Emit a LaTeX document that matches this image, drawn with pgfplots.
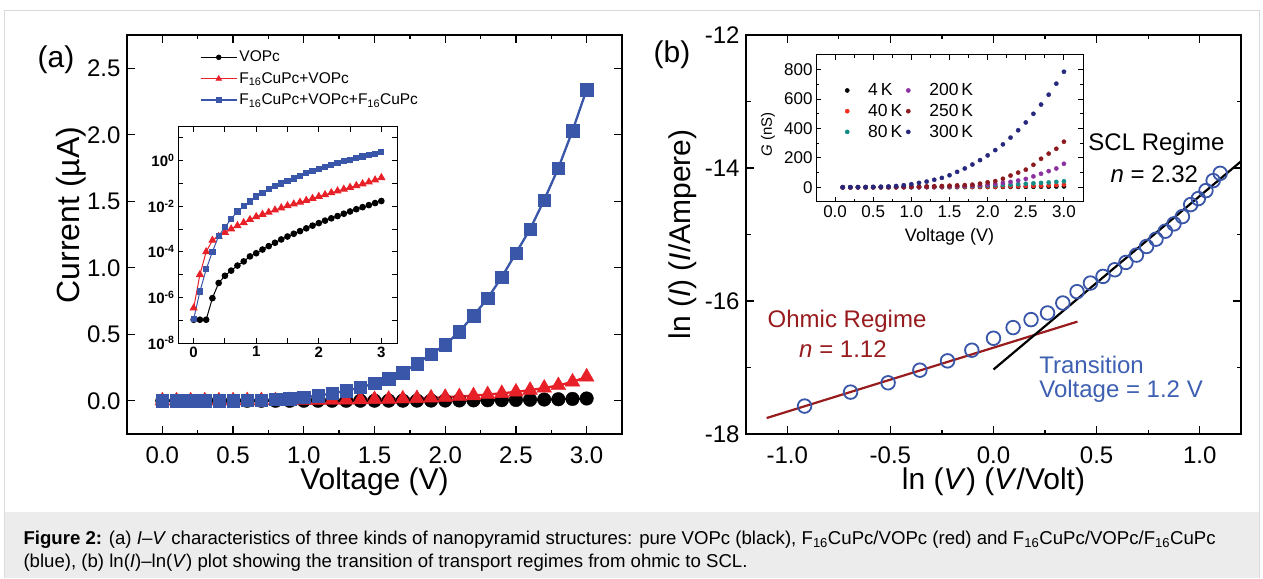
\documentclass[border=0pt]{standalone}
\usepackage{fontspec}
\setmainfont{Liberation Sans}
\usepackage{pgfplots}
\usepackage{pgfplotstable}
\pgfplotsset{compat=1.18}

\definecolor{cred}{RGB}{232,32,40}
\definecolor{cblue}{RGB}{58,86,168}
\definecolor{ohm}{RGB}{152,28,30}
\definecolor{trans}{RGB}{62,96,178}
\definecolor{tk40}{RGB}{240,45,35}
\definecolor{tk80}{RGB}{20,140,135}
\definecolor{tk200}{RGB}{140,50,160}
\definecolor{tk250}{RGB}{140,25,30}
\definecolor{tk300}{RGB}{38,40,125}
\definecolor{capbg}{RGB}{236,236,236}
\definecolor{framec}{RGB}{218,218,218}

% I-V data, current in microampere
\pgfplotstableread{
V I
0.0 1.05e-7
0.1 1.05e-7
0.2 1.05e-7
0.3 9.3e-7
0.4 4.3e-6
0.5 8.9e-6
0.6 1.5e-5
0.7 2.5e-5
0.8 3.8e-5
0.9 6.3e-5
1.0 8.7e-5
1.1 1.26e-4
1.2 1.78e-4
1.3 2.5e-4
1.4 3.5e-4
1.5 4.7e-4
1.6 6.2e-4
1.7 8.1e-4
1.8 1.07e-3
1.9 1.41e-3
2.0 1.82e-3
2.1 2.34e-3
2.2 2.95e-3
2.3 3.7e-3
2.4 4.7e-3
2.5 5.9e-3
2.6 7.4e-3
2.7 9.1e-3
2.8 1.12e-2
2.9 1.38e-2
3.0 1.7e-2
}\vopc

\pgfplotstableread{
V I
0.0 3.4e-7
0.1 1.0e-5
0.2 1.0e-4
0.3 3.2e-4
0.4 4.7e-4
0.5 7.1e-4
0.6 1.0e-3
0.7 1.4e-3
0.8 1.9e-3
0.9 2.6e-3
1.0 3.5e-3
1.1 4.4e-3
1.2 5.4e-3
1.3 6.8e-3
1.4 8.5e-3
1.5 1.05e-2
1.6 1.25e-2
1.7 1.5e-2
1.8 1.8e-2
1.9 2.2e-2
2.0 2.7e-2
2.1 3.2e-2
2.2 3.9e-2
2.3 4.7e-2
2.4 5.6e-2
2.5 6.7e-2
2.6 8.0e-2
2.7 9.6e-2
2.8 1.15e-1
2.9 1.42e-1
3.0 1.80e-1
}\fvopc

\pgfplotstableread{
V I
0.0 1.1e-7
0.1 1.8e-6
0.2 1.7e-5
0.3 1.0e-4
0.4 5.0e-4
0.5 1.2e-3
0.6 2.8e-3
0.7 5.9e-3
0.8 1.0e-2
0.9 1.6e-2
1.0 2.7e-2
1.1 3.8e-2
1.2 5.5e-2
1.3 7.5e-2
1.4 0.10
1.5 0.13
1.6 0.165
1.7 0.21
1.8 0.28
1.9 0.35
2.0 0.42
2.1 0.52
2.2 0.64
2.3 0.77
2.4 0.93
2.5 1.11
2.6 1.29
2.7 1.51
2.8 1.75
2.9 2.03
3.0 2.34
}\fvf

% ln I vs ln V
\pgfplotstableread{
x y
-0.916 -17.58
-0.693 -17.37
-0.511 -17.23
-0.357 -17.04
-0.223 -16.90
-0.105 -16.74
0.000 -16.56
0.095 -16.40
0.182 -16.28
0.262 -16.18
0.336 -16.03
0.405 -15.86
0.470 -15.73
0.531 -15.63
0.588 -15.53
0.642 -15.42
0.693 -15.31
0.742 -15.18
0.788 -15.07
0.833 -14.95
0.875 -14.84
0.916 -14.73
0.956 -14.55
0.993 -14.46
1.030 -14.34
1.065 -14.19
1.099 -14.08
}\lnlog

% conductance (nS) at six temperatures
\pgfplotstableread{
V a b c d e f
0.1 0 0 0 0 0 0.5
0.2 0 0 0 0 0 1
0.3 0 0 0 0 0.5 1.5
0.4 0 0 0 0.5 0.5 2
0.5 0 0 0.5 0.5 1 3
0.6 0 0.5 0.5 1 1 4
0.7 0.5 0.5 1 1 2 6
0.8 0.5 0.5 1 1.5 2 9
0.9 0.5 0.5 1.5 1.5 3 14
1.0 0.5 1 2 2 4 21
1.1 0.5 1 2.5 2.5 5 30
1.2 1 1 3 3 6 39
1.3 1 1 3.5 4 7 51
1.4 1 1.5 4 5 9 64
1.5 1 2 5 6 11 82
1.6 1 2.5 6 7 13 105
1.7 1.5 3 7 9 15 128
1.8 1.5 3.5 8 11 18 155
1.9 2 4 10 14 25 185
2.0 2 4.5 12 18 34 217
2.1 2 5 14 23 42 253
2.2 2.5 6 16 30 58 292
2.3 2.5 7 18 37 80 338
2.4 3 8 21 46 100 388
2.5 3 9 24 57 120 441
2.6 3.5 10 27 74 153 500
2.7 4 11 30 92 194 563
2.8 4 13 33 110 229 630
2.9 5 15 37 128 262 705
3.0 6 18 41 160 310 786
}\gdat

\pgfplotsset{
  mainax/.style={scale only axis, anchor=south west, width=495pt, height=399pt,
    axis line style={line width=1.6pt}, tick style={line width=1.3pt, black},
    tick align=inside, major tick length=8pt, minor tick length=4.5pt,
    ticklabel style={font=\fontsize{24}{24}\selectfont},
    xticklabel style={yshift=-9pt}, yticklabel style={xshift=-3pt},
    /pgf/number format/assume math mode=true,
    label style={font=\fontsize{30}{30}\selectfont}},
  onedec/.style={/pgf/number format/fixed, /pgf/number format/fixed zerofill,
    /pgf/number format/precision=1},
}

\begin{document}
\begin{tikzpicture}[x=1pt,y=1pt]
\fill[white] (0pt,0pt) rectangle (1263pt,578pt);
\fill[capbg] (4pt,0pt) rectangle (1259pt,66pt);
\draw[framec, line width=1pt] (4pt,0pt) -- (4pt,567pt) -- (1259pt,567pt) -- (1259pt,0pt);

\node[anchor=base west, font=\fontsize{18.6}{21}\selectfont] at (20pt,34pt) {\textbf{Figure 2:} (a) \textit{I}–\textit{V} characteristics of three kinds of nanopyramid structures: pure VOPc (black), F\textsubscript{16}CuPc/VOPc (red) and F\textsubscript{16}CuPc/VOPc/F\textsubscript{16}CuPc};
\node[anchor=base west, font=\fontsize{18.6}{21}\selectfont] at (20pt,11pt) {(blue), (b) ln(\textit{I})–ln(\textit{V}) plot showing the transition of transport regimes from ohmic to SCL.};

\node[font=\fontsize{30}{30}\selectfont] at (56pt,518pt) {(a)};
\node[font=\fontsize{30}{30}\selectfont] at (672pt,523pt) {(b)};

% panel (a)
\begin{axis}[mainax, at={(127pt,144pt)},
  xmin=-0.25, xmax=3.25, ymin=-0.25, ymax=2.75,
  xtick={0,0.5,1,1.5,2,2.5,3}, minor xtick={0.25,0.75,1.25,1.75,2.25,2.75},
  ytick={0,0.5,1,1.5,2,2.5},
  xticklabel style={onedec}, yticklabel style={onedec},
  xlabel={Voltage (V)}, ylabel={Current (µA)},
  xlabel style={at={(axis description cs:0.5,-0.12)}, anchor=center},
  ylabel style={at={(axis description cs:-0.113,0.549)}, anchor=center, font=\fontsize{32}{32}\selectfont},
  legend style={draw=none, fill=none, at={(axis description cs:0.141,0.97)}, anchor=north west,
    font=\fontsize{15.5}{15.5}\selectfont, row sep=5pt},
  legend cell align=left,
  legend image code/.code={\draw[mark repeat=2,mark phase=2,#1] plot coordinates {(0pt,0pt) (18pt,0pt) (36pt,0pt)};},
]
\addplot[black, line width=2.3pt, mark=*, mark size=6.8pt, mark options={line width=0.4pt},
  legend image post style={mark size=2.5pt, line width=1.5pt}] table[x=V,y=I]{\vopc};
\addlegendentry{VOPc}
\addplot[cred, line width=2.3pt, mark=triangle*, mark size=8.5pt, mark options={line width=0.4pt},
  legend image post style={mark size=3.3pt, line width=1.5pt}] table[x=V,y=I]{\fvopc};
\addlegendentry{F\textsubscript{16}CuPc+VOPc}
\addplot[cblue, line width=2.3pt, mark=square*, mark size=6.2pt, mark options={line width=0.4pt},
  legend image post style={mark size=2.3pt, line width=1.5pt}] table[x=V,y=I]{\fvf};
\addlegendentry{F\textsubscript{16}CuPc+VOPc+F\textsubscript{16}CuPc}
\end{axis}

% inset of (a)
\begin{axis}[scale only axis, at={(178pt,235pt)}, anchor=south west, width=219pt, height=216pt,
  ymode=log, xmin=-0.25, xmax=3.25, ymin=1e-8, ymax=30,
  axis background/.style={fill=white}, axis line style={line width=1pt},
  tick style={line width=0.9pt, black}, tick align=inside,
  major tick length=5pt, minor tick length=5pt,
  xtick={0,1,2,3}, xticklabels={0,1,2,3}, minor xtick={0.5,1.5,2.5},
  ytick={1e-8,1e-6,1e-4,1e-2,1},
  yticklabels={10\textsuperscript{-8},10\textsuperscript{-6},10\textsuperscript{-4},10\textsuperscript{-2},10\textsuperscript{0}},
  minor ytick={1e-7,1e-5,1e-3,1e-1,10},
  ticklabel style={font=\fontsize{15}{15}\selectfont\bfseries},
]
\addplot[black, line width=1pt, mark=*, mark size=2.8pt] table[x=V,y=I]{\vopc};
\addplot[cred, line width=1pt, mark=triangle*, mark size=3.8pt] table[x=V,y=I]{\fvopc};
\addplot[cblue, line width=1pt, mark=square*, mark size=2.6pt] table[x=V,y=I]{\fvf};
\end{axis}

% panel (b)
\begin{axis}[mainax, at={(746pt,144pt)},
  xmin=-1.2, xmax=1.2, ymin=-18, ymax=-12,
  xtick={-1,-0.5,0,0.5,1}, minor xtick={-0.75,-0.25,0.25,0.75},
  ytick={-18,-16,-14,-12}, minor ytick={-17,-15,-13},
  xticklabel style={onedec},
  xlabel={ln (\textit{V}) (\textit{V}/Volt)}, ylabel={ln (\textit{I}) (\textit{I}/Ampere)},
  xlabel style={at={(axis description cs:0.5,-0.12)}, anchor=center},
  ylabel style={at={(axis description cs:-0.127,0.5)}, anchor=center},
]
\addplot[only marks, cblue, mark=o, mark size=6.8pt, mark options={line width=1.8pt}] table[x=x,y=y]{\lnlog};
\addplot[ohm, line width=2.2pt] coordinates {(-1.1,-17.76) (0.407,-16.31)};
\addplot[black, line width=2.2pt] coordinates {(0,-17.03) (1.2,-13.90)};
\node[ohm, font=\fontsize{24}{24}\selectfont] at (axis cs:-0.71,-16.31) {Ohmic Regime};
\node[ohm, font=\fontsize{24}{24}\selectfont] at (axis cs:-0.73,-16.73) {\textit{n} = 1.12};
\node[black, font=\fontsize{24}{24}\selectfont] at (axis cs:0.79,-13.65) {SCL Regime};
\node[black, font=\fontsize{24}{24}\selectfont] at (axis cs:0.78,-14.1) {\textit{n} = 2.32};
\node[trans, anchor=west, font=\fontsize{24}{24}\selectfont] at (axis cs:0.205,-16.96) {Transition};
\node[trans, anchor=west, font=\fontsize{24}{24}\selectfont] at (axis cs:0.205,-17.36) {Voltage = 1.2 V};
\end{axis}

% inset of (b)
\begin{axis}[scale only axis, at={(816pt,376pt)}, anchor=south west, width=267pt, height=147pt,
  xmin=-0.25, xmax=3.25, ymin=-100, ymax=900,
  axis background/.style={fill=white}, axis line style={line width=1pt},
  tick style={line width=0.9pt, black}, tick align=inside,
  major tick length=5pt, minor tick length=3pt,
  xtick={0,0.5,1,1.5,2,2.5,3}, minor xtick={0.25,0.75,1.25,1.75,2.25,2.75},
  ytick={0,200,400,600,800}, minor ytick={100,300,500,700},
  xticklabel style={onedec},
  /pgf/number format/assume math mode=true,
  ticklabel style={font=\fontsize{17}{17}\selectfont},
  xlabel={Voltage (V)}, ylabel={\textit{G} (nS)},
  xlabel style={font=\fontsize{18}{18}\selectfont, at={(axis description cs:0.5,-0.236)}, anchor=center},
  ylabel style={font=\fontsize{15}{15}\selectfont, at={(axis description cs:-0.18,0.46)}, anchor=center},
  legend columns=3, transpose legend,
  legend style={draw=none, fill=none, at={(axis description cs:0.09,0.834)}, anchor=north west,
    font=\fontsize{17.5}{17.5}\selectfont, row sep=3pt,
    /tikz/every even column/.append style={column sep=0pt}},
  legend cell align=left,
  legend image code/.code={\draw[#1] plot coordinates {(4pt,0pt)}; \path[draw=none] (0pt,0pt) -- (23pt,0pt);},
]
\addplot[only marks, black, mark=*, mark size=2.1pt] table[x=V,y=a]{\gdat};
\addlegendentry{4\,K}
\addplot[only marks, tk40, mark=*, mark size=2.1pt] table[x=V,y=b]{\gdat};
\addlegendentry{40\,K}
\addplot[only marks, tk80, mark=*, mark size=2.1pt] table[x=V,y=c]{\gdat};
\addlegendentry{80\,K}
\addplot[only marks, tk200, mark=*, mark size=2.1pt] table[x=V,y=d]{\gdat};
\addlegendentry{200\,K}
\addplot[only marks, tk250, mark=*, mark size=2.1pt] table[x=V,y=e]{\gdat};
\addlegendentry{250\,K}
\addplot[only marks, tk300, mark=*, mark size=2.1pt] table[x=V,y=f]{\gdat};
\addlegendentry{300\,K}
\end{axis}
\end{tikzpicture}
\end{document}
